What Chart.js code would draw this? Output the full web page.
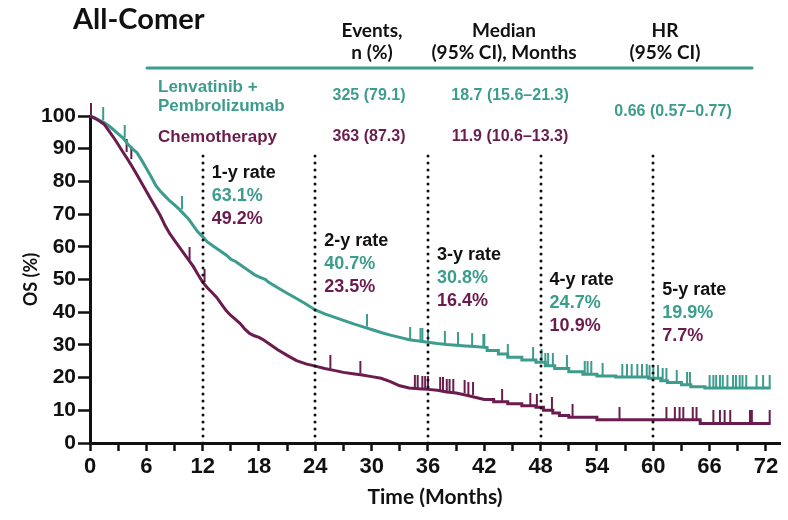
<!DOCTYPE html>
<html>
<head>
<meta charset="utf-8">
<script src="https://cdn.jsdelivr.net/npm/chart.js@4.4.1/dist/chart.umd.min.js"></script>
<style>
html, body { margin: 0; padding: 0; background: #fff; }
#wrap { width: 788px; height: 520px; }
</style>
</head>
<body>
<div id="wrap"><canvas id="osChart" width="788" height="520"></canvas></div>
<script>
// Kaplan-Meier OS curves (months, %)
var lenvaTime = [0, 0.5, 1, 1.5, 2, 2.5, 3, 3.5, 4, 4.5, 5, 5.5, 6, 6.5, 7, 7.5, 8, 8.5, 9, 9.5, 10, 10.5, 11, 11.5, 12,
  12.5, 13, 13.5, 14, 14.5, 15, 15.5, 16, 16.5, 17, 17.5, 18, 18.7, 19, 20, 21, 22, 23, 24, 25, 26, 27, 28, 29, 30,
  31, 32, 33, 34, 35, 36, 37, 38, 39, 40, 41, 42.3, 42.3, 43.5, 43.5, 44.5, 44.5, 46, 46, 47.5, 47.5, 48.5, 48.5,
  49.5, 49.5, 51, 51, 52.5, 52.5, 54, 54, 56, 56, 59.5, 59.5, 60.8, 60.8, 61.5, 61.5, 63, 63, 64, 64, 65.5, 65.5, 72.5];
var lenvaOS = [100, 99.5, 98.7, 98, 97, 95.8, 94.5, 93.3, 91.5, 90, 88.8, 86.5, 84, 81.5, 78.8, 77, 75.5, 74, 72.8, 71.5, 70, 68.5, 66.5, 64.5, 63.1,
  61.5, 60.5, 59.5, 58.5, 57.5, 56.2, 55.5, 54.5, 53.5, 52.5, 51.5, 50.8, 50, 49.2, 47.5, 45.8, 44.2, 42.5, 40.7, 39.5, 38.5, 37.5, 36.5, 35.6, 34.7,
  33.8, 33, 32.3, 31.6, 31.2, 30.8, 30.4, 30.1, 29.9, 29.7, 29.5, 29.2, 28.3, 28.3, 27.2, 27.2, 26.2, 26.2, 25.4, 25.4, 24.7, 24.7, 23.6,
  23.6, 22.8, 22.8, 21.8, 21.8, 21, 21, 20.5, 20.5, 20.2, 20.2, 19.8, 19.8, 19, 19, 18.5, 18.5, 17.8, 17.8, 17.2, 17.2, 16.8, 16.8];

var chemoTime = [0, 0.5, 1, 1.5, 2, 2.5, 3, 3.5, 4, 4.5, 5, 5.5, 6, 6.5, 7, 7.5, 8, 8.5, 9, 9.5, 10, 10.5, 11, 11.5, 12,
  12.5, 13, 13.5, 14, 14.5, 15, 15.5, 16, 16.5, 17, 17.5, 18, 18.5, 19, 20, 21, 22, 23, 24, 25, 26, 27, 28, 29, 30,
  31, 32, 33, 34, 35, 36, 37, 38, 39, 40, 41, 42, 43, 43, 44.5, 44.5, 46, 46, 47.5, 47.5, 48.3, 48.3, 49.3, 49.3,
  50, 50, 51, 51, 54, 54, 65, 65, 72.5];
var chemoOS = [100, 99.3, 98.5, 97.5, 95.5, 93.5, 91.3, 89, 86.8, 84.5, 82, 79.5, 77, 74.5, 72, 69.5, 66.5, 64, 62, 60, 58, 56, 54, 51.5, 49.2,
  47.5, 46, 44.5, 42.5, 40.5, 39, 37.8, 36.5, 34.8, 33.5, 32.8, 32.3, 31.5, 30.5, 28.5, 26.8, 25.2, 24.2, 23.5, 22.8, 22.2, 21.6, 21.2, 20.8, 20.3,
  19.8, 18.8, 17.5, 16.8, 16.6, 16.4, 16.1, 15.6, 15.3, 14.7, 14.0, 13.3, 13.3, 12.6, 12.6, 12, 12, 11.4, 11.4, 10.9, 10.9, 10, 10, 9.2,
  9.2, 8.4, 8.4, 7.9, 7.9, 7.1, 7.1, 6.0, 6.0];

// censored observations (months)
var lenvaCensor = [1.4, 3.7, 9.8, 29.5, 34.1, 35.2, 35.4, 36, 37.8, 39.2, 40.7, 41.9, 42, 44.5, 47.2, 48.1, 48.5, 48.8, 49.3,
  50.8, 52.7, 53, 53.4, 54.6, 56.7, 57.2, 57.7, 58.3, 58.8, 59.3, 59.6, 60, 60.5, 61, 61.4, 62.5, 63.6, 63.9,
  66, 66.4, 66.7, 67.1, 67.4, 67.9, 68.5, 68.8, 69.2, 69.5, 69.9, 71, 71.7, 72.4];
var chemoCensor = [0.1, 3.9, 4.4, 10.6, 12.2, 25.6, 28.8, 34.6, 34.9, 35.4, 35.7, 36, 37.3, 37.6, 38, 38.3, 38.7, 39.9, 40.3,
  40.8, 43.9, 46.9, 47.6, 49.2, 51.4, 56.4, 61.4, 62.3, 62.8, 63.2, 64.2, 64.6, 66.4, 67.1, 67.6, 68.2, 70.3, 70.5, 72.4];

var xTickValues = [0, 3, 6, 9, 12, 15, 18, 21, 24, 27, 30, 33, 36, 39, 42, 45, 48, 51, 54, 57, 60, 63, 66, 69, 72];

var rateYears = [12, 24, 36, 48, 60];
var rateNames = ['1-y rate', '2-y rate', '3-y rate', '4-y rate', '5-y rate'];
var rateLenva = ['63.1%', '40.7%', '30.8%', '24.7%', '19.9%'];
var rateChemo = ['49.2%', '23.5%', '16.4%', '10.9%', '7.7%'];

var armNames = [['Lenvatinib +', 'Pembrolizumab'], ['Chemotherapy']];
var armEvents = ['325 (79.1)', '363 (87.3)'];
var armMedian = ['18.7 (15.6\u201321.3)', '11.9 (10.6\u201313.3)'];
var hrText = '0.66 (0.57\u20130.77)';

var TEAL = '#3c9c8d';
var PLUM = '#6b1c4e';
var INK = '#111111';

function toPoints(times, values) {
  var pts = [];
  for (var i = 0; i < times.length; i++) {
    pts.push({ x: times[i], y: values[i] });
  }
  return pts;
}

// censor mark sits on the curve level at that time
function censorPoints(censor, times, values) {
  var pts = [];
  for (var c = 0; c < censor.length; c++) {
    var v = values[0];
    for (var i = 0; i < times.length; i++) {
      if (times[i] <= censor[c]) v = values[i];
    }
    pts.push({ x: censor[c], y: v });
  }
  return pts;
}

function tickMark(color) {
  var cv = document.createElement('canvas');
  cv.width = 4;
  cv.height = 26;
  var c = cv.getContext('2d');
  c.strokeStyle = color;
  c.lineWidth = 2;
  c.beginPath();
  c.moveTo(2, 0);
  c.lineTo(2, 13);
  c.stroke();
  return cv;
}

var overlay = {
  id: 'overlay',
  afterDatasetsDraw: function(chart) {
    var ctx = chart.ctx;
    var xs = chart.scales.x, ys = chart.scales.y;
    ctx.save();

    // dotted landmark lines
    ctx.strokeStyle = INK;
    ctx.lineWidth = 3;
    ctx.lineCap = 'round';
    ctx.setLineDash([0, 7]);
    for (var i = 0; i < rateYears.length; i++) {
      var px = Math.round(xs.getPixelForValue(rateYears[i]));
      ctx.beginPath();
      ctx.moveTo(px, ys.getPixelForValue(0));
      ctx.lineTo(px, ys.getPixelForValue(88));
      ctx.stroke();
    }
    ctx.setLineDash([]);

    // landmark rate labels
    var labelTop = [173, 241, 255, 280, 290];
    ctx.textBaseline = 'middle';
    ctx.textAlign = 'left';
    ctx.font = 'bold 18px "Liberation Sans", Arial, sans-serif';
    for (var j = 0; j < rateYears.length; j++) {
      var lx = xs.getPixelForValue(rateYears[j]) + 9;
      ctx.fillStyle = INK;
      ctx.fillText(rateNames[j], lx, labelTop[j]);
      ctx.fillStyle = TEAL;
      ctx.fillText(rateLenva[j], lx, labelTop[j] + 23);
      ctx.fillStyle = PLUM;
      ctx.fillText(rateChemo[j], lx, labelTop[j] + 46);
    }

    // header block
    ctx.fillStyle = INK;
    ctx.font = 'bold 29px Lato, "Open Sans", sans-serif';
    ctx.fillText('All-Comer', 73, 20);

    ctx.textAlign = 'center';
    ctx.font = 'bold 19px Lato, "Open Sans", sans-serif';
    ctx.fillText('Events,', 372, 31);
    ctx.fillText('n (%)', 372, 53);
    ctx.fillText('Median', 504, 31);
    ctx.fillText('(95% CI), Months', 504, 53);
    ctx.fillText('HR', 665, 31);
    ctx.fillText('(95% CI)', 665, 53);

    ctx.strokeStyle = TEAL;
    ctx.lineWidth = 3;
    ctx.beginPath();
    ctx.moveTo(147, 68);
    ctx.lineTo(752, 68);
    ctx.stroke();

    ctx.font = 'bold 17px "Liberation Sans", Arial, sans-serif';
    ctx.textAlign = 'left';
    ctx.fillStyle = TEAL;
    ctx.fillText(armNames[0][0], 158, 87);
    ctx.fillText(armNames[0][1], 158, 106);
    ctx.fillStyle = PLUM;
    ctx.fillText(armNames[1][0], 158, 137);

    ctx.font = 'bold 16px "Liberation Sans", Arial, sans-serif';
    ctx.textAlign = 'center';
    ctx.fillStyle = TEAL;
    ctx.fillText(armEvents[0], 369, 96);
    ctx.fillText(armMedian[0], 510, 96);
    ctx.fillText(hrText, 673, 112);
    ctx.fillStyle = PLUM;
    ctx.fillText(armEvents[1], 369, 137);
    ctx.fillText(armMedian[1], 510, 137);

    ctx.restore();
  }
};

var ctx = document.getElementById('osChart').getContext('2d');
var chart = new Chart(ctx, {
  type: 'line',
  data: {
    datasets: [
      {
        label: 'Chemotherapy',
        data: toPoints(chemoTime, chemoOS),
        borderColor: PLUM,
        borderWidth: 3,
        pointRadius: 0,
        fill: false,
        clip: false
      },
      {
        label: 'Lenvatinib + Pembrolizumab',
        data: toPoints(lenvaTime, lenvaOS),
        borderColor: TEAL,
        borderWidth: 3,
        pointRadius: 0,
        fill: false,
        clip: false
      },
      {
        type: 'scatter',
        label: 'chemo censored',
        data: censorPoints(chemoCensor, chemoTime, chemoOS),
        pointStyle: tickMark(PLUM),
        clip: false
      },
      {
        type: 'scatter',
        label: 'lenva censored',
        data: censorPoints(lenvaCensor, lenvaTime, lenvaOS),
        pointStyle: tickMark(TEAL),
        clip: false
      }
    ]
  },
  options: {
    responsive: false,
    animation: false,
    layout: { padding: { top: 116, right: 8, left: 0, bottom: 0 } },
    plugins: {
      legend: { display: false },
      tooltip: { enabled: false }
    },
    scales: {
      x: {
        type: 'linear',
        min: 0,
        max: 73.5,
        afterFit: function(scale) { scale.height = 77; },
        afterBuildTicks: function(scale) {
          scale.ticks = xTickValues.map(function(v) { return { value: v }; });
        },
        border: { display: true, color: INK, width: 3 },
        grid: {
          drawOnChartArea: false,
          color: INK,
          tickLength: 8,
          tickWidth: 2.5
        },
        ticks: {
          padding: 3,
          color: INK,
          maxRotation: 0,
          autoSkip: false,
          font: { family: '"Liberation Sans Narrow", "Liberation Sans", sans-serif', weight: 'bold', size: 22 },
          callback: function(v) { return v % 6 === 0 ? String(v) : ''; }
        },
        title: {
          display: true,
          text: 'Time (Months)',
          color: INK,
          font: { family: 'Lato, "Open Sans", sans-serif', weight: 'bold', size: 21 },
          padding: { top: 10, bottom: 10 }
        }
      },
      y: {
        min: 0,
        max: 100,
        afterFit: function(scale) { scale.width = 90; },
        border: { display: true, color: INK, width: 3 },
        grid: { drawOnChartArea: false, color: INK, tickLength: 12, tickWidth: 2.5 },
        ticks: {
          stepSize: 10,
          padding: 2,
          color: INK,
          font: { family: '"Liberation Sans", Arial, sans-serif', weight: 'bold', size: 21 }
        },
        title: {
          display: true,
          text: 'OS (%)',
          color: INK,
          font: { family: 'Lato, "Open Sans", sans-serif', weight: 'bold', size: 18 },
          padding: { top: 20, bottom: 20 }
        }
      }
    }
  },
  plugins: [overlay]
});
</script>
</body>
</html>
